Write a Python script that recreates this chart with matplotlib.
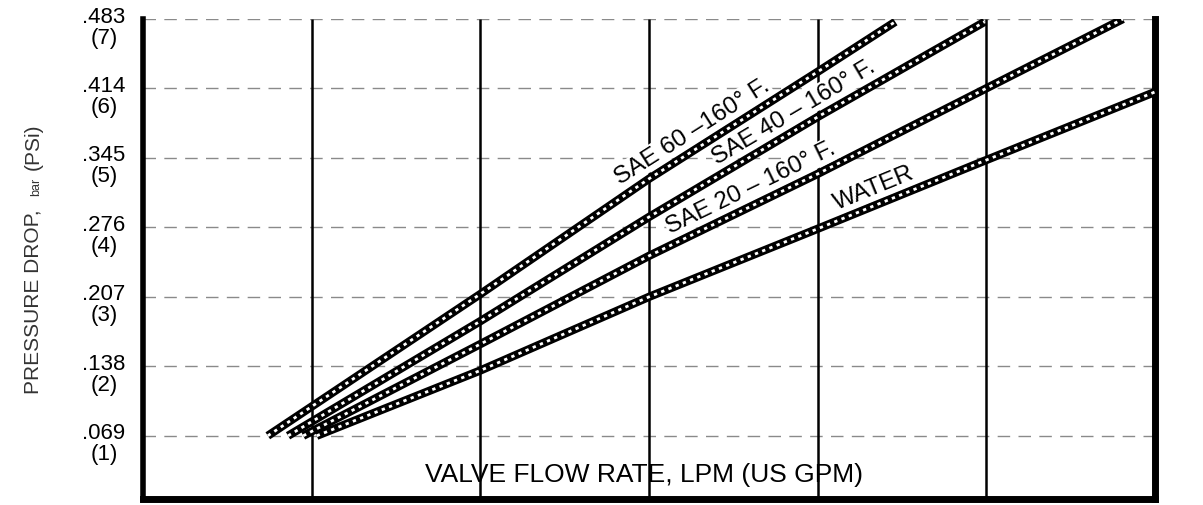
import numpy as np
import matplotlib.pyplot as plt

plt.rcParams['font.family'] = ['Liberation Sans', 'DejaVu Sans']

# === Data (x in grid divisions, y in PSI) ===
psi_levels = [1, 2, 3, 4, 5, 6, 7]
bar_labels = ['.069', '.138', '.207', '.276', '.345', '.414', '.483']
psi_labels = ['(1)', '(2)', '(3)', '(4)', '(5)', '(6)', '(7)']
grid_x = [1, 2, 3, 4, 5]

sae60_x = [0.74, 2.0, 3.0, 4.0, 4.46]
sae60_y = [1.0, 3.04, 4.70, 6.24, 6.96]
sae40_x = [0.86, 2.0, 3.0, 4.0, 4.99]
sae40_y = [1.0, 2.65, 4.15, 5.59, 6.96]
sae20_x = [0.95, 2.0, 3.0, 4.0, 4.99, 5.81]
sae20_y = [1.0, 2.32, 3.59, 4.77, 5.99, 7.0]
water_x = [1.03, 2.0, 3.0, 4.0, 4.99, 6.0]
water_y = [1.0, 1.94, 3.0, 3.98, 4.96, 5.95]

# (x, y, label, x position of label centre along the curve)
series = [
    (sae60_x, sae60_y, 'SAE 60 \u2013160\u00b0 F.', 3.31),
    (sae40_x, sae40_y, 'SAE 40 \u2013 160\u00b0 F.', 3.91),
    (sae20_x, sae20_y, 'SAE 20 \u2013 160\u00b0 F.', 3.65),
    (water_x, water_y, 'WATER', 4.37),
]

W, H = 1203, 506
fig = plt.figure(figsize=(W / 100, H / 100), dpi=100)
ax = fig.add_axes([143 / W, 1 - 500 / H, 1012 / W, 480 / H])
ax.set_xlim(0, 6)
ax.set_ylim(0.09, 7.0)
ax.set_xticks([])
ax.set_yticks([])

for side, lw in [('left', 4), ('bottom', 5), ('right', 5)]:
    ax.spines[side].set_linewidth(lw)
ax.spines['top'].set_visible(False)

# horizontal dashed grid and vertical solid grid
for y in psi_levels:
    ax.plot([0, 6], [y, y], color='#8a8a8a', lw=1, dashes=(9, 6), zorder=1)
ax.vlines(grid_x, 0.09, 7.0, color='black', lw=1.8, zorder=2)

# hatched-looking curves with labels sitting on top of them
for xs, ys, label, lx in series:
    ax.plot(xs, ys, color='black', lw=6, solid_capstyle='butt', zorder=3)
    ax.plot(xs, ys, color='white', lw=2, dashes=(1.2, 1.6), zorder=4)
    ly = np.interp(lx, xs, ys)
    p1 = ax.transData.transform((lx - 0.1, np.interp(lx - 0.1, xs, ys)))
    p2 = ax.transData.transform((lx + 0.1, np.interp(lx + 0.1, xs, ys)))
    ang = np.degrees(np.arctan2(p2[1] - p1[1], p2[0] - p1[0]))
    off = 6
    dx, dy = -np.sin(np.radians(ang)) * off, np.cos(np.radians(ang)) * off
    ax.annotate(label, xy=(lx, ly), xytext=(dx, dy), textcoords='offset pixels',
                rotation=ang, rotation_mode='anchor', ha='center', va='bottom',
                fontsize=17.5, zorder=5,
                bbox=dict(boxstyle='square,pad=0.05', fc='white', ec='none'))

# y tick labels: bar on top, psi in brackets beneath
for y, b, p in zip(psi_levels, bar_labels, psi_labels):
    ax.annotate(b, xy=(0, y), xycoords=('axes fraction', 'data'),
                xytext=(-39, 3), textcoords='offset pixels',
                ha='center', va='center', fontsize=16)
    ax.annotate(p, xy=(0, y), xycoords=('axes fraction', 'data'),
                xytext=(-39, -18), textcoords='offset pixels',
                ha='center', va='center', fontsize=16)

# axis titles
fig.text(644 / W, 1 - 475 / H, 'VALVE FLOW RATE, LPM (US GPM)',
         ha='center', va='center', fontsize=19)
fig.text(33 / W, 1 - 302 / H, 'PRESSURE DROP,', rotation=90,
         ha='center', va='center', fontsize=15, color='#333333')
fig.text(36 / W, 1 - 187 / H, 'bar', rotation=90,
         ha='center', va='center', fontsize=9, color='#333333')
fig.text(33 / W, 1 - 147 / H, '(PSi)', rotation=90,
         ha='center', va='center', fontsize=15, color='#333333')

fig.savefig('out.png', dpi=100)
